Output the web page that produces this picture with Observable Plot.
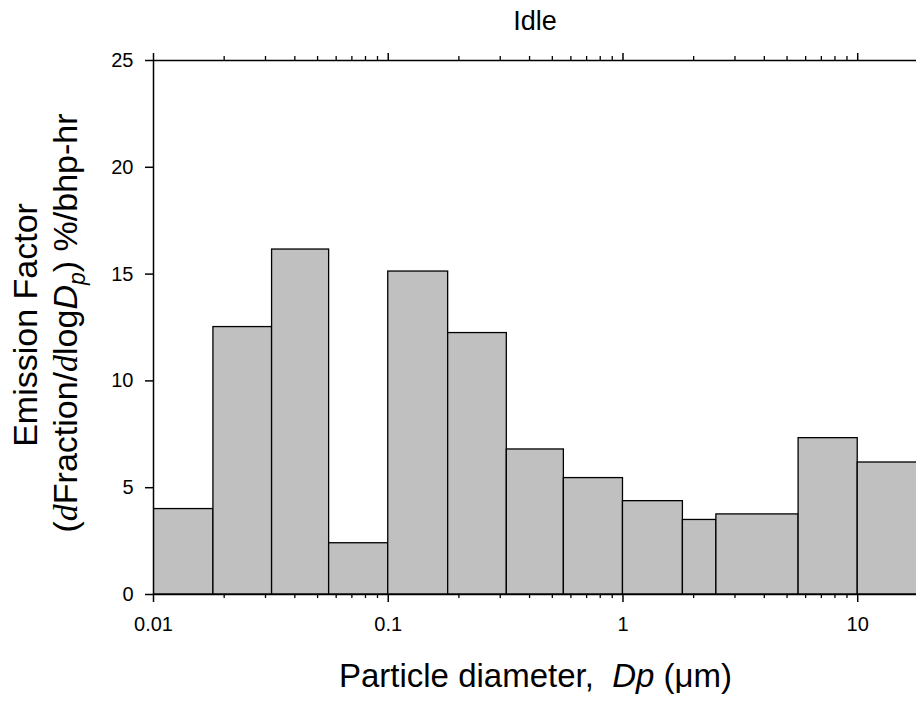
<!DOCTYPE html>
<html><head><meta charset="utf-8">
<script src="https://cdn.jsdelivr.net/npm/d3@7"></script>
<script src="https://cdn.jsdelivr.net/npm/@observablehq/plot@0.6"></script>
<style>body{margin:0;background:#fff}</style>
</head><body><div id="chart"></div>
<script>
const binEdges = [0.01, 0.018, 0.032, 0.056, 0.1, 0.18, 0.32, 0.56, 1.0, 1.8, 2.5, 5.6, 10, 18];
const emission = [4.0, 12.52, 16.15, 2.40, 15.12, 12.24, 6.79, 5.45, 4.37, 3.49, 3.75, 7.32, 6.18];
const xMajorTicks = [0.01, 0.1, 1, 10];
const xTickLabels = ["0.01", "0.1", "1", "10"];
const yTicks = [0, 5, 10, 15, 20, 25];
const titleText = "Idle";

const bars = emission.map((v, i) => ({x1: binEdges[i], x2: binEdges[i + 1], y: v}));
const minorTicks = [];
for (const d of xMajorTicks) for (let k = 2; k <= 9; k++) { const t = d * k; if (t < 17.8) minorTicks.push(t); }

const font = "'Liberation Sans', Arial, sans-serif";
const plot = Plot.plot({
  width: 916, height: 702,
  marginLeft: 153, marginRight: 0, marginTop: 60, marginBottom: 108,
  style: {fontFamily: font, fontSize: "20px", color: "black", background: "white", overflow: "visible"},
  x: {type: "log", domain: [0.01, 17.8]},
  y: {domain: [0, 25]},
  marks: [
    Plot.rect(bars, {x1: "x1", x2: "x2", y1: 0, y2: "y", fill: "#c0c0c0", stroke: "black", strokeWidth: 1.3, clip: true}),
    Plot.ruleY([0], {stroke: "black", strokeWidth: 1.5}),
    Plot.ruleY([25], {stroke: "black", strokeWidth: 1.5}),
    Plot.ruleX([0.01], {stroke: "black", strokeWidth: 1.5}),
    Plot.axisX(minorTicks, {anchor: "bottom", tickSize: 4, tickFormat: () => "", label: null, strokeWidth: 1.3}),
    Plot.axisX(xMajorTicks, {anchor: "bottom", tickSize: 8, tickPadding: 14, fontSize: 20, tickFormat: d => xTickLabels[xMajorTicks.indexOf(d)], label: null, strokeWidth: 1.5}),
    Plot.axisX(minorTicks, {anchor: "top", tickSize: 5, tickFormat: () => "", label: null, strokeWidth: 1.3}),
    Plot.axisX(xMajorTicks, {anchor: "top", tickSize: 8, tickFormat: () => "", label: null, strokeWidth: 1.5}),
    Plot.axisY(yTicks, {anchor: "left", tickSize: 8, tickPadding: 12, fontSize: 20, label: null, strokeWidth: 1.5})
  ]
});
document.getElementById("chart").appendChild(plot);

const svg = d3.select(plot);
svg.selectAll('g[aria-label$="tick label"]').attr("font-size", 20).style("font-size", "20px");
svg.selectAll('g[aria-label$="tick label"] text').style("font-size", "20px");

svg.append("text").attr("x", 535).attr("y", 30).attr("text-anchor", "middle")
  .attr("font-family", font).attr("font-size", 27).attr("fill", "black").text(titleText);

const xl = svg.append("text").attr("x", 535.5).attr("y", 687).attr("text-anchor", "middle")
  .attr("font-family", font).attr("font-size", 33).attr("fill", "black");
xl.append("tspan").text("Particle diameter,  ");
xl.append("tspan").attr("font-style", "italic").text("Dp");
xl.append("tspan").text(" (\u03bcm)");

svg.append("text").attr("transform", "translate(37,325) rotate(-90)").attr("text-anchor", "middle")
  .attr("font-family", font).attr("font-size", 34).attr("fill", "black").text("Emission Factor");

const y2 = svg.append("text").attr("transform", "translate(77,323) rotate(-90)").attr("text-anchor", "middle")
  .attr("font-family", font).attr("font-size", 34).attr("fill", "black");
const serif = "'Liberation Serif', 'Times New Roman', serif";
y2.append("tspan").text("(");
y2.append("tspan").attr("font-family", serif).attr("font-style", "italic").text("d");
y2.append("tspan").text("Fraction/");
y2.append("tspan").attr("font-family", serif).attr("font-style", "italic").text("d");
y2.append("tspan").text("log");
y2.append("tspan").attr("font-style", "italic").text("D");
y2.append("tspan").attr("font-style", "italic").attr("font-size", 23).attr("dy", 8).text("p");
y2.append("tspan").attr("dy", -8).text(") %/bhp-hr");
</script>
</body></html>
